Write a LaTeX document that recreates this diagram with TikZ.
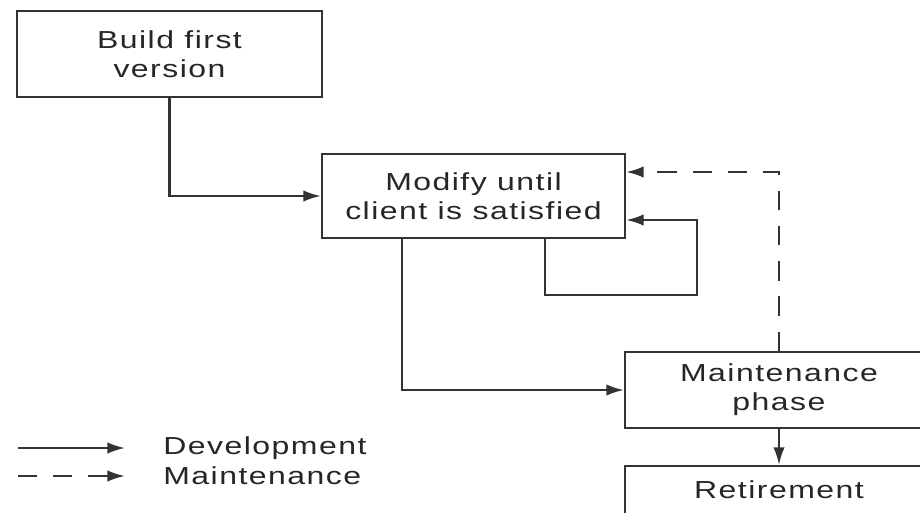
\documentclass[tikz,border=0pt]{standalone}
\usepackage{fontspec}
\setmainfont{Liberation Sans}[FakeStretch=1.3,LetterSpace=6]
\usetikzlibrary{calc,arrows.meta}
\begin{document}
\begin{tikzpicture}[x=0.02cm, y=-0.02cm,
		box/.style={shape=rectangle, draw=black!80, line width=0.045cm, align=center, text=black!85, font=\fontsize{14}{16.5}\selectfont},
		flow/.style={->, >={Latex[length=10pt, width=6.5pt]}, line width=0.045cm, draw=black!80},
		maint/.style={flow, dash pattern=on 11pt off 9pt},
		legend/.style={anchor=west, text=black!85, font=\fontsize{14}{16.5}\selectfont, inner sep=0pt}]
			\useasboundingbox (0,0) rectangle (920,512);
			\clip (0,0) rectangle (920,512);
			%Boxes:
			\path
				(169.5, 54) node[box, minimum width=305*0.02cm, minimum height=86*0.02cm] (build) {Build first\\version}
				(473.5, 196) node[box, minimum width=303*0.02cm, minimum height=84*0.02cm] (modify) {Modify until\\client is satisfied}
				(779, 390) node[box, minimum width=308*0.02cm, minimum height=76*0.02cm] (maintenance) {Maintenance\\phase}
				(779, 490) node[box, minimum width=308*0.02cm, minimum height=48*0.02cm] (retirement) {Retirement};
			%Loop corner:
			\coordinate (loop) at (697, 295);
			%Development arrows:
			\draw[flow]
				(build.south) |- (modify.west);
			\draw[flow]
				($(modify.south west)+(81,0)$) |- (maintenance.west);
			\draw[flow]
				($(modify.south west)+(224,0)$) |- (loop) |- ($(modify.east)+(0,24)$);
			\draw[flow]
				(maintenance.south) -- (retirement.north);
			%Maintenance arrow:
			\draw[maint]
				(maintenance.north) |- ($(modify.east)+(0,-24)$);
			%Legend:
			\coordinate (devstart) at (18, 448);
			\coordinate (devend) at (125, 448);
			\coordinate (mntstart) at (18, 476);
			\coordinate (mntend) at (125, 476);
			\draw[flow] (devstart) -- (devend);
			\draw[maint] (mntstart) -- (mntend);
			\path
				(163, 448) node[legend] (devlabel) {Development}
				(163, 476) node[legend] (mntlabel) {Maintenance};
			\end{tikzpicture}
\end{document}
